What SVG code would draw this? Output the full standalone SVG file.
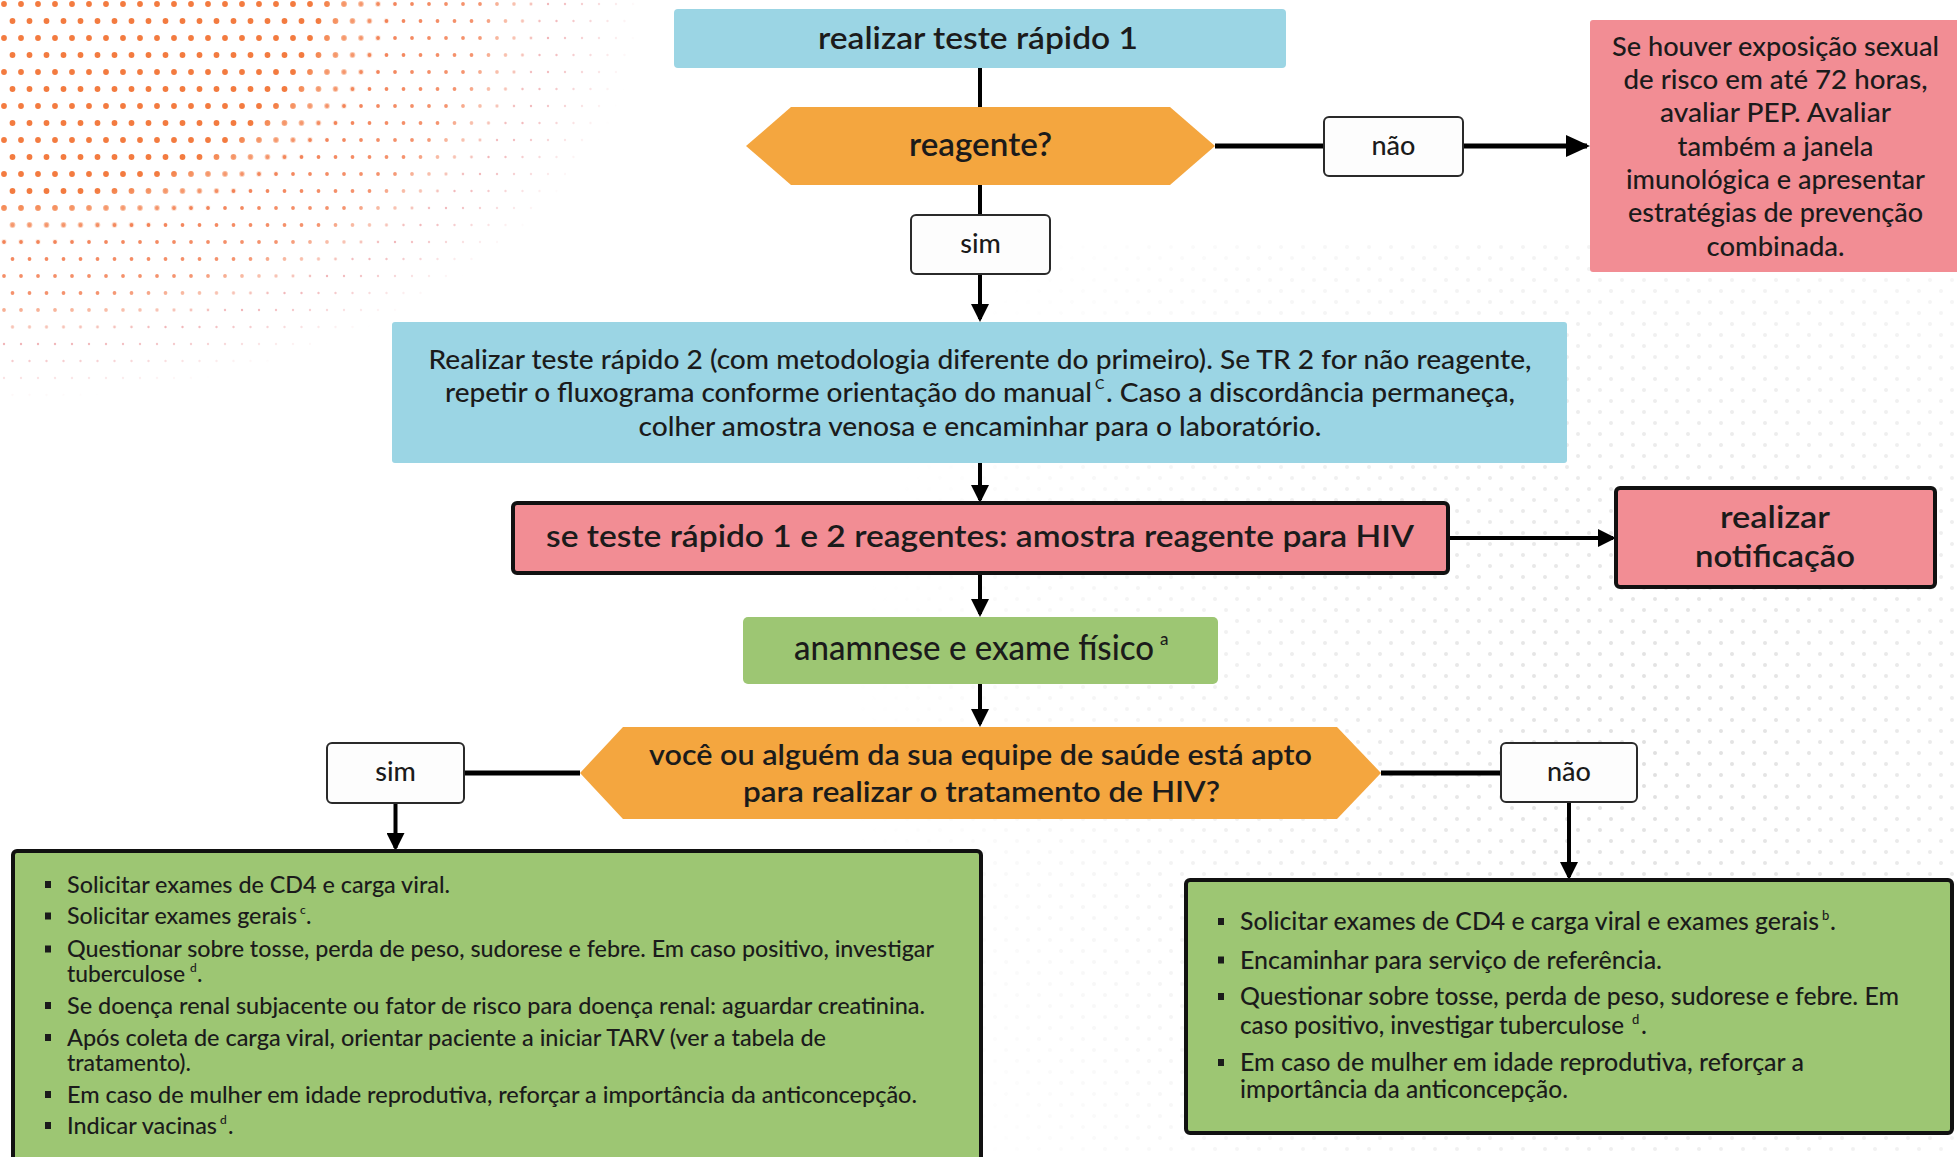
<svg xmlns="http://www.w3.org/2000/svg" width="1957" height="1157" viewBox="0 0 1957 1157">
<style>
.t{font-family:Lato,"Open Sans","Liberation Sans",sans-serif;fill:#1b1b1b}
.h{font-weight:600}
.b{font-weight:500}
.c{text-anchor:middle}
.blue{fill:#9BD5E4}
.orange{fill:#F4A63F}
.pink{fill:#F28D94}
.green{fill:#9DC673}
.lbl{fill:#fdfdfd;stroke:#2a2a2a;stroke-width:2}
.bord{stroke:#111;stroke-width:4}
.con{stroke:#000;fill:none}
.v{stroke-width:4}
.hz{stroke-width:5}
.bul{fill:#1b1b1b}
</style>
<defs>
<marker id="ah" markerUnits="userSpaceOnUse" markerWidth="18" markerHeight="18" refX="15" refY="9" orient="auto"><path d="M0,0 L18,9 L0,18 z" fill="#000"/></marker>
<marker id="ahL" markerUnits="userSpaceOnUse" markerWidth="24" markerHeight="22" refX="21" refY="11" orient="auto"><path d="M0,0 L24,11 L0,22 z" fill="#000"/></marker>
<pattern id="dotsBig" width="17" height="34" patternUnits="userSpaceOnUse"><circle cx="4" cy="4" r="2.9" fill="#F37B40"/><circle cx="12.5" cy="21" r="2.9" fill="#F37B40"/></pattern>
<pattern id="dotsMid" width="17" height="34" patternUnits="userSpaceOnUse"><circle cx="4" cy="4" r="1.9" fill="#F3845A"/><circle cx="12.5" cy="21" r="1.9" fill="#F3845A"/></pattern>
<pattern id="dotsSmall" width="17" height="34" patternUnits="userSpaceOnUse"><circle cx="4" cy="4" r="1.2" fill="#EC9A9E"/><circle cx="12.5" cy="21" r="1.2" fill="#EC9A9E"/></pattern>
<pattern id="dotsGray" width="22" height="22" patternUnits="userSpaceOnUse"><circle cx="5" cy="5" r="2" fill="#d4d4d4"/><circle cx="16" cy="16" r="2" fill="#d4d4d4"/></pattern>
<radialGradient id="gBig" gradientUnits="userSpaceOnUse" cx="0" cy="0" r="1" gradientTransform="scale(640,400)"><stop offset="0" stop-color="#fff"/><stop offset="0.5" stop-color="#fff"/><stop offset="0.62" stop-color="#000"/></radialGradient>
<radialGradient id="gMid" gradientUnits="userSpaceOnUse" cx="0" cy="0" r="1" gradientTransform="scale(640,400)"><stop offset="0.5" stop-color="#000"/><stop offset="0.6" stop-color="#fff"/><stop offset="0.75" stop-color="#ddd"/><stop offset="0.85" stop-color="#000"/></radialGradient>
<radialGradient id="gSmall" gradientUnits="userSpaceOnUse" cx="0" cy="0" r="1" gradientTransform="scale(640,400)"><stop offset="0.78" stop-color="#000"/><stop offset="0.86" stop-color="#bbb"/><stop offset="1" stop-color="#000"/></radialGradient>
<radialGradient id="gGray" gradientUnits="userSpaceOnUse" cx="1650" cy="750" r="800"><stop offset="0" stop-color="#bbb"/><stop offset="1" stop-color="#000"/></radialGradient>
<mask id="mBig"><rect width="1957" height="1157" fill="url(#gBig)"/></mask>
<mask id="mMid"><rect width="1957" height="1157" fill="url(#gMid)"/></mask>
<mask id="mSmall"><rect width="1957" height="1157" fill="url(#gSmall)"/></mask>
<mask id="mGray"><rect width="1957" height="1157" fill="url(#gGray)"/></mask>
</defs>
<rect width="1957" height="1157" fill="#fff"/>
<g id="background">
<rect y="240" width="1957" height="917" fill="url(#dotsGray)" mask="url(#mGray)"/>
<rect width="700" height="420" fill="url(#dotsSmall)" mask="url(#mSmall)"/>
<rect width="700" height="420" fill="url(#dotsMid)" mask="url(#mMid)"/>
<rect width="700" height="420" fill="url(#dotsBig)" mask="url(#mBig)"/>
</g>

<g id="connectors">
<line class="con v" x1="980" y1="68" x2="980" y2="107"/>
<line class="con v" x1="980" y1="185" x2="980" y2="215"/>
<line class="con v" x1="980" y1="274" x2="980" y2="319" marker-end="url(#ah)"/>
<line class="con hz" x1="1215" y1="146" x2="1324" y2="146"/>
<line class="con hz" x1="1463" y1="146" x2="1587" y2="146" marker-end="url(#ahL)"/>
<line class="con v" x1="980" y1="463" x2="980" y2="500" marker-end="url(#ah)"/>
<line class="con v" x1="1448" y1="538" x2="1613" y2="538" marker-end="url(#ah)"/>
<line class="con v" x1="980" y1="573" x2="980" y2="614" marker-end="url(#ah)"/>
<line class="con v" x1="980" y1="684" x2="980" y2="724" marker-end="url(#ah)"/>
<line class="con hz" x1="464" y1="773" x2="580" y2="773"/>
<line class="con v" x1="395.5" y1="803" x2="395.5" y2="848" marker-end="url(#ah)"/>
<line class="con hz" x1="1381" y1="773" x2="1501" y2="773"/>
<line class="con v" x1="1569" y1="802" x2="1569" y2="877" marker-end="url(#ah)"/>
<g id="label-sim-1"><rect class="lbl" x="911" y="215" width="139" height="59" rx="5"/><text class="t b c" x="980.5" y="253" font-size="27">sim</text></g>
<g id="label-nao-1"><rect class="lbl" x="1324" y="117" width="139" height="59" rx="5"/><text class="t b c" x="1393.5" y="155" font-size="27">não</text></g>
<g id="label-sim-2"><rect class="lbl" x="327" y="743" width="137" height="60" rx="5"/><text class="t b c" x="395.5" y="781" font-size="27">sim</text></g>
<g id="label-nao-2"><rect class="lbl" x="1501" y="743" width="136" height="59" rx="5"/><text class="t b c" x="1569" y="781" font-size="27">não</text></g>
</g>

<g id="node-teste1">
<rect class="blue" x="674" y="9" width="612" height="59" rx="4"/>
<text class="t h c" x="978" y="49" font-size="30" textLength="320" lengthAdjust="spacingAndGlyphs">realizar teste rápido 1</text>
</g>

<g id="node-reagente">
<polygon class="orange" points="746,146 791,107 1170,107 1215,146 1170,185 791,185"/>
<text class="t h c" x="980.5" y="156" font-size="32" textLength="143" lengthAdjust="spacingAndGlyphs">reagente?</text>
</g>

<g id="node-exposicao">
<rect class="pink" x="1590" y="20" width="375" height="252" rx="3"/>
<g class="t b c" font-size="26">
<text x="1775.5" y="56" textLength="327" lengthAdjust="spacingAndGlyphs">Se houver exposição sexual</text>
<text x="1775.5" y="89" textLength="304" lengthAdjust="spacingAndGlyphs">de risco em até 72 horas,</text>
<text x="1775.5" y="122" textLength="231" lengthAdjust="spacingAndGlyphs">avaliar PEP. Avaliar</text>
<text x="1775.5" y="156" textLength="196" lengthAdjust="spacingAndGlyphs">também a janela</text>
<text x="1775.5" y="189" textLength="299" lengthAdjust="spacingAndGlyphs">imunológica e apresentar</text>
<text x="1775.5" y="222" textLength="295" lengthAdjust="spacingAndGlyphs">estratégias de prevenção</text>
<text x="1775.5" y="256" textLength="138" lengthAdjust="spacingAndGlyphs">combinada.</text>
</g>
</g>

<g id="node-teste2">
<rect class="blue" x="392" y="322" width="1175" height="141" rx="3"/>
<g class="t b" font-size="26">
<text class="c" x="980" y="369" textLength="1103" lengthAdjust="spacingAndGlyphs">Realizar teste rápido 2 (com metodologia diferente do primeiro). Se TR 2 for não reagente,</text>
<text x="445" y="402" textLength="647" lengthAdjust="spacingAndGlyphs">repetir o fluxograma conforme orientação do manual</text>
<text x="1095" y="389" font-size="14">C</text>
<text x="1106" y="402" textLength="409" lengthAdjust="spacingAndGlyphs">. Caso a discordância permaneça,</text>
<text class="c" x="980" y="436" textLength="683" lengthAdjust="spacingAndGlyphs">colher amostra venosa e encaminhar para o laboratório.</text>
</g>
</g>

<g id="node-amostra">
<rect class="pink bord" x="513" y="503" width="935" height="70" rx="4"/>
<text class="t h c" x="980" y="547" font-size="31" textLength="868" lengthAdjust="spacingAndGlyphs">se teste rápido 1 e 2 reagentes: amostra reagente para HIV</text>
</g>

<g id="node-notificacao">
<rect class="pink bord" x="1616" y="488" width="319" height="99" rx="4"/>
<text class="t h c" x="1775" y="528" font-size="31" textLength="110" lengthAdjust="spacingAndGlyphs">realizar</text>
<text class="t h c" x="1775" y="567" font-size="31" textLength="160" lengthAdjust="spacingAndGlyphs">notificação</text>
</g>

<g id="node-anamnese">
<rect class="green" x="743" y="617" width="475" height="67" rx="5"/>
<text class="t b" x="794" y="660" font-size="35" textLength="360" lengthAdjust="spacingAndGlyphs">anamnese e exame físico</text>
<text class="t b" x="1160" y="645" font-size="17">a</text>
</g>

<g id="node-apto">
<polygon class="orange" points="580,773 623,727 1337,727 1381,773 1337,819 623,819"/>
<text class="t h c" x="980.5" y="765" font-size="29" textLength="663" lengthAdjust="spacingAndGlyphs">você ou alguém da sua equipe de saúde está apto</text>
<text class="t h c" x="981.5" y="802" font-size="29" textLength="477" lengthAdjust="spacingAndGlyphs">para realizar o tratamento de HIV?</text>
</g>

<g id="node-sim-acoes">
<rect class="green bord" x="13" y="851" width="968" height="340" rx="4"/>
<g class="bul">
<rect x="45" y="881" width="6" height="7"/>
<rect x="45" y="912.5" width="6" height="7"/>
<rect x="45" y="945.5" width="6" height="7"/>
<rect x="45" y="1002" width="6" height="7"/>
<rect x="45" y="1034" width="6" height="7"/>
<rect x="45" y="1091" width="6" height="7"/>
<rect x="45" y="1122" width="6" height="7"/>
</g>
<g class="t b" font-size="23">
<text x="67" y="892.5" textLength="383" lengthAdjust="spacingAndGlyphs">Solicitar exames de CD4 e carga viral.</text>
<text x="67" y="924" textLength="230" lengthAdjust="spacingAndGlyphs">Solicitar exames gerais</text>
<text x="300" y="914" font-size="12">c</text>
<text x="306" y="924">.</text>
<text x="67" y="957" textLength="867" lengthAdjust="spacingAndGlyphs">Questionar sobre tosse, perda de peso, sudorese e febre. Em caso positivo, investigar</text>
<text x="67" y="981.5" textLength="118" lengthAdjust="spacingAndGlyphs">tuberculose</text>
<text x="190" y="971.5" font-size="12">d</text>
<text x="197" y="981.5">.</text>
<text x="67" y="1013.5" textLength="858" lengthAdjust="spacingAndGlyphs">Se doença renal subjacente ou fator de risco para doença renal: aguardar creatinina.</text>
<text x="67" y="1045.5" textLength="759" lengthAdjust="spacingAndGlyphs">Após coleta de carga viral, orientar paciente a iniciar TARV (ver a tabela de</text>
<text x="67" y="1070.5" textLength="124" lengthAdjust="spacingAndGlyphs">tratamento).</text>
<text x="67" y="1102.5" textLength="850" lengthAdjust="spacingAndGlyphs">Em caso de mulher em idade reprodutiva, reforçar a importância da anticoncepção.</text>
<text x="67" y="1133.5" textLength="150" lengthAdjust="spacingAndGlyphs">Indicar vacinas</text>
<text x="220" y="1123.5" font-size="12">d</text>
<text x="228" y="1133.5">.</text>
</g>
</g>

<g id="node-nao-acoes">
<rect class="green bord" x="1186" y="880" width="766" height="253" rx="4"/>
<g class="bul">
<rect x="1218" y="918" width="6" height="7"/>
<rect x="1218" y="956.5" width="6" height="7"/>
<rect x="1218" y="993" width="6" height="7"/>
<rect x="1218" y="1059" width="6" height="7"/>
</g>
<g class="t b" font-size="25">
<text x="1240" y="930" textLength="579" lengthAdjust="spacingAndGlyphs">Solicitar exames de CD4 e carga viral e exames gerais</text>
<text x="1822" y="920" font-size="13">b</text>
<text x="1830" y="930">.</text>
<text x="1240" y="1005" textLength="659" lengthAdjust="spacingAndGlyphs">Questionar sobre tosse, perda de peso, sudorese e febre. Em</text>
<text x="1240" y="968.5" textLength="422" lengthAdjust="spacingAndGlyphs">Encaminhar para serviço de referência.</text>
<text x="1240" y="1033.5" textLength="384" lengthAdjust="spacingAndGlyphs">caso positivo, investigar tuberculose</text>
<text x="1632" y="1023.5" font-size="13">d</text>
<text x="1641" y="1033.5">.</text>
<text x="1240" y="1071" textLength="564" lengthAdjust="spacingAndGlyphs">Em caso de mulher em idade reprodutiva, reforçar a</text>
<text x="1240" y="1098" textLength="328" lengthAdjust="spacingAndGlyphs">importância da anticoncepção.</text>
</g>
</g>
</svg>
